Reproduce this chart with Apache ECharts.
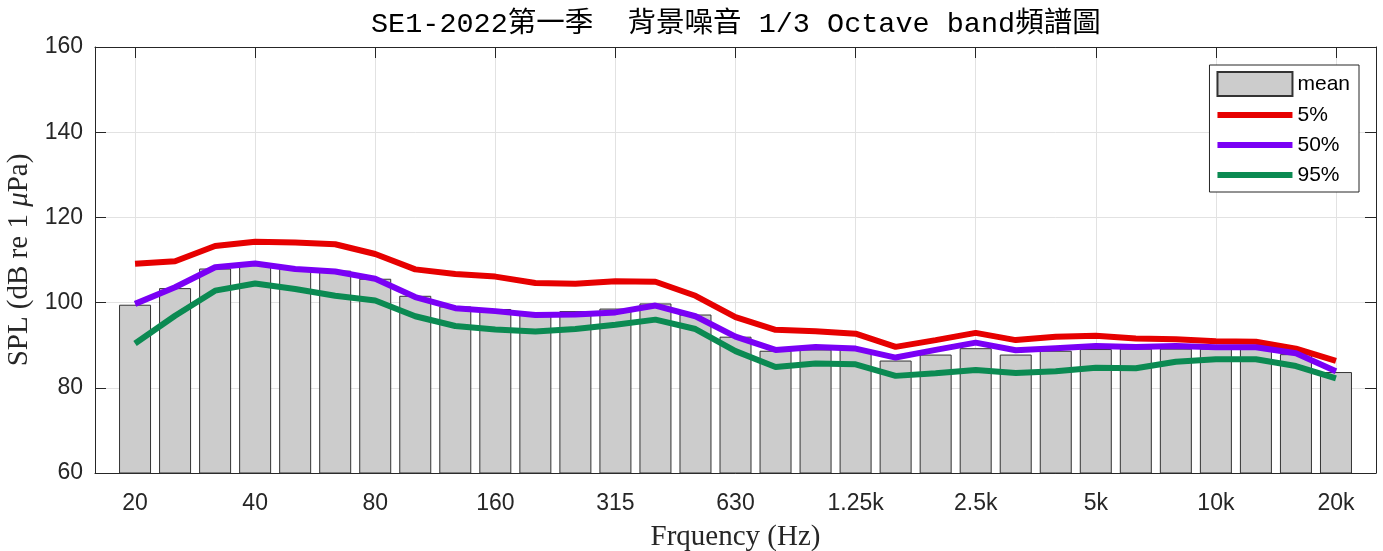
<!DOCTYPE html>
<html><head><meta charset="utf-8">
<script src="https://cdn.jsdelivr.net/npm/echarts@6/dist/echarts.min.js"></script>
<style>html,body{margin:0;padding:0;background:#fff}#c{width:1383px;height:551px}</style>
</head><body><div id="c"></div>
<script>
const bands = ['20','25','31.5','40','50','63','80','100','125','160','200','250','315','400','500','630','800','1k','1.25k','1.6k','2k','2.5k','3.15k','4k','5k','6.3k','8k','10k','12.5k','16k','20k'];
const tickLabels = ['20','40','80','160','315','630','1.25k','2.5k','5k','10k','20k'];
const meanLevel = [99.5,103.4,108.0,108.8,107.9,107.5,105.6,101.6,99.1,98.5,97.4,98.0,98.6,99.8,97.2,92.0,88.7,89.0,89.0,86.4,87.8,89.3,87.8,88.7,89.1,89.2,89.2,89.2,89.2,87.9,83.7];
const p5 = [109.1,109.7,113.3,114.3,114.1,113.7,111.4,107.8,106.7,106.1,104.6,104.4,105.0,104.9,101.6,96.6,93.6,93.3,92.7,89.6,91.2,92.9,91.2,92.0,92.2,91.6,91.4,90.9,90.8,89.2,86.3];
const p50 = [99.7,103.6,108.3,109.2,107.9,107.3,105.6,101.3,98.7,98.0,97.1,97.2,97.7,99.3,96.8,92.0,88.9,89.6,89.2,87.1,88.9,90.6,88.8,89.3,89.8,89.6,89.8,89.5,89.5,88.1,83.9];
const p95 = [90.4,96.9,102.8,104.5,103.2,101.6,100.5,96.8,94.5,93.7,93.2,93.8,94.8,96.0,93.8,88.6,84.9,85.7,85.5,82.8,83.4,84.2,83.5,83.9,84.7,84.6,86.1,86.7,86.7,85.1,82.2];

const cats = [''].concat(bands, ['']);
const pad = a => [null].concat(a, [null]);
const showTick = (k) => k >= 1 && k <= bands.length && tickLabels.indexOf(bands[k - 1]) >= 0;
const axisColor = '#262626';
const gridColor = '#e2e2e2';

const titleText = 'SE1-2022第一季  背景噪音 1/3 Octave band頻譜圖';
const titleFont = "'Liberation Mono','Noto Sans CJK TC',monospace";
const titleSize = 28.5;
const gridLeft = 95, gridRight = 7;
const W = 1383;
const ctx = document.createElement('canvas').getContext('2d');
ctx.font = titleSize + 'px ' + titleFont;
const titleW = ctx.measureText(titleText).width;
const plotCenter = gridLeft + (W - gridLeft - gridRight) / 2;

const lineIcon = 'path://M0,0L0.01,0M0,24L0.01,24M0,9L75,9L75,15L0,15Z';

const chart = echarts.init(document.getElementById('c'));
chart.setOption({
  animation: false,
  backgroundColor: '#fff',
  title: {
    text: titleText,
    left: Math.round(plotCenter - titleW / 2), top: 10, padding: 0,
    textStyle: { fontFamily: titleFont, fontSize: titleSize, fontWeight: 'normal', color: '#000' }
  },
  legend: {
    orient: 'vertical', right: 24, top: 65,
    itemWidth: 75, itemHeight: 24, itemGap: 6,
    padding: [6, 9, 5, 7],
    backgroundColor: '#fff', borderColor: axisColor, borderWidth: 1,
    textStyle: { fontFamily: 'Liberation Sans', fontSize: 21, color: '#000' },
    data: [
      { name: 'mean', icon: 'rect' },
      { name: '5%', icon: lineIcon },
      { name: '50%', icon: lineIcon },
      { name: '95%', icon: lineIcon }
    ]
  },
  grid: { left: gridLeft, right: gridRight, top: 47, bottom: 78, outerBoundsMode: 'none', containLabel: false },
  xAxis: [
    {
      type: 'category', data: cats, boundaryGap: false, position: 'bottom',
      axisLine: { lineStyle: { color: axisColor, width: 1 } },
      axisTick: { inside: true, length: 11, interval: showTick, lineStyle: { color: axisColor } },
      axisLabel: { interval: showTick, margin: 19, fontFamily: 'Liberation Sans', fontSize: 23, color: axisColor },
      splitLine: { show: true, interval: showTick, lineStyle: { color: gridColor, width: 1 } },
      name: 'Frquency (Hz)', nameLocation: 'middle', nameGap: 50,
      nameTextStyle: { fontFamily: 'Liberation Serif', fontSize: 29, color: axisColor }
    },
    {
      type: 'category', data: cats, boundaryGap: false, position: 'top',
      axisLine: { lineStyle: { color: axisColor, width: 1 } },
      axisTick: { inside: true, length: 11, interval: showTick, lineStyle: { color: axisColor } },
      axisLabel: { show: false }, splitLine: { show: false }
    }
  ],
  yAxis: [
    {
      type: 'value', min: 60, max: 160, interval: 20, position: 'left',
      axisLine: { show: true, lineStyle: { color: axisColor, width: 1 } },
      axisTick: { show: true, inside: true, length: 11, lineStyle: { color: axisColor } },
      axisLabel: { margin: 12, fontFamily: 'Liberation Sans', fontSize: 23, color: axisColor },
      splitLine: { show: true, lineStyle: { color: gridColor, width: 1 } },
      name: 'SPL (dB re 1 {i|μ}Pa)', nameLocation: 'middle', nameGap: 60,
      nameTextStyle: {
        fontFamily: 'Liberation Serif', fontSize: 29, color: axisColor,
        rich: { i: { fontFamily: 'Liberation Serif', fontSize: 29, fontStyle: 'italic', color: axisColor } }
      }
    },
    {
      type: 'value', min: 60, max: 160, interval: 20, position: 'right',
      axisLine: { show: true, lineStyle: { color: axisColor, width: 1 } },
      axisTick: { show: true, inside: true, length: 11, lineStyle: { color: axisColor } },
      axisLabel: { show: false }, splitLine: { show: false }
    }
  ],
  series: [
    { name: 'mean', type: 'bar', data: pad(meanLevel), barWidth: 32,
      itemStyle: { color: '#cccccc', borderColor: '#333333', borderWidth: 1 } },
    { name: '5%', type: 'line', data: pad(p5), symbol: 'none', z: 3,
      lineStyle: { color: '#e60000', width: 6 }, itemStyle: { color: '#e60000' } },
    { name: '50%', type: 'line', data: pad(p50), symbol: 'none', z: 3,
      lineStyle: { color: '#7a00f5', width: 6 }, itemStyle: { color: '#7a00f5' } },
    { name: '95%', type: 'line', data: pad(p95), symbol: 'none', z: 3,
      lineStyle: { color: '#0b8a52', width: 6 }, itemStyle: { color: '#0b8a52' } }
  ]
});
</script>
</body></html>
